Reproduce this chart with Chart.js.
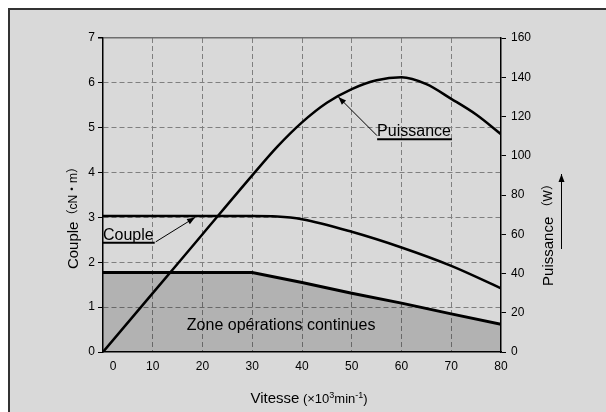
<!DOCTYPE html>
<html lang="fr">
<head>
<meta charset="UTF-8">
<title>Couple et puissance</title>
<script src="https://cdn.jsdelivr.net/npm/chart.js@4"></script>
<style>
  html, body { margin: 0; padding: 0; background: #fff; }
  #boite { width: 606px; height: 412px; }
</style>
</head>
<body>
<div id="boite"><canvas id="canvasMoteur" width="606" height="412"></canvas></div>
<script>
// vitesse en x10^3 min-1
const vitesseCouple = [0, 10, 20, 30, 35, 40, 50, 60, 70, 80];
const couple = [3.03, 3.03, 3.03, 3.03, 3.02, 2.96, 2.68, 2.33, 1.92, 1.42];

const vitessePuissance = [0, 10, 20, 30, 35, 40, 45, 50, 55, 60, 65, 70, 75, 80];
const puissance = [0, 30, 60, 90, 104.5, 117, 127, 134, 138.5, 140, 136.5, 129, 121, 111];

const vitesseZone = [0, 30, 40, 50, 60, 70, 80];
const zoneContinue = [1.77, 1.77, 1.55, 1.31, 1.09, 0.85, 0.62];

const ticksVitesse = [0, 10, 20, 30, 40, 50, 60, 70, 80];
const ticksCouple = [0, 1, 2, 3, 4, 5, 6, 7];
const ticksPuissance = [0, 20, 40, 60, 80, 100, 120, 140, 160];

const police = '"Liberation Sans", Arial, "Noto Sans CJK JP", sans-serif';
const grille = '#7f7f7f';

const points = (xs, ys) => xs.map((x, i) => ({ x: x, y: ys[i] }));
const fixerTicks = (liste) => (s) => { s.ticks = liste.map(v => ({ value: v })); };

// cadre gris autour du graphique
const cadre = {
    id: 'cadre',
    beforeDraw(chart) {
        const ctx = chart.ctx;
        ctx.save();
        ctx.fillStyle = '#fff';
        ctx.fillRect(0, 0, chart.width, chart.height);
        ctx.fillStyle = '#d9d9d9';
        ctx.fillRect(9, 9, chart.width, chart.height);
        ctx.strokeStyle = '#333';
        ctx.lineWidth = 2;
        ctx.beginPath();
        ctx.moveTo(9, chart.height + 2);
        ctx.lineTo(9, 9);
        ctx.lineTo(chart.width + 2, 9);
        ctx.stroke();
        ctx.restore();
    }
};

function fleche(ctx, x1, y1, x2, y2) {
    const a = Math.atan2(y2 - y1, x2 - x1);
    ctx.beginPath();
    ctx.moveTo(x1, y1);
    ctx.lineTo(x2, y2);
    ctx.stroke();
    ctx.beginPath();
    ctx.moveTo(x2, y2);
    ctx.lineTo(x2 - 8 * Math.cos(a) + 3 * Math.sin(a), y2 - 8 * Math.sin(a) - 3 * Math.cos(a));
    ctx.lineTo(x2 - 8 * Math.cos(a) - 3 * Math.sin(a), y2 - 8 * Math.sin(a) + 3 * Math.cos(a));
    ctx.closePath();
    ctx.fill();
}

// morceaux de texte avec tailles differentes (exposants)
function texteMorceaux(ctx, morceaux, x, y) {
    let l = 0;
    morceaux.forEach(m => { ctx.font = m[1] + 'px ' + police; l += ctx.measureText(m[0]).width; });
    let cx = x - l / 2;
    morceaux.forEach(m => {
        ctx.font = m[1] + 'px ' + police;
        ctx.fillText(m[0], cx, y - (m[2] || 0));
        cx += ctx.measureText(m[0]).width;
    });
}

const annotations = {
    id: 'annotations',
    afterDatasetsDraw(chart) {
        const ctx = chart.ctx;
        const sx = chart.scales.x, sy = chart.scales.y, sp = chart.scales.y2;
        ctx.save();
        ctx.fillStyle = '#000';
        ctx.strokeStyle = '#000';
        ctx.font = '16px ' + police;
        ctx.textBaseline = 'alphabetic';

        // Couple
        let x0 = sx.getPixelForValue(0), yb = sy.getPixelForValue(2.5);
        ctx.fillText('Couple', x0, yb);
        let w = ctx.measureText('Couple').width;
        ctx.lineWidth = 2;
        ctx.beginPath();
        ctx.moveTo(x0, yb + 3); ctx.lineTo(x0 + w + 1, yb + 3);
        ctx.stroke();
        ctx.lineWidth = 1;
        fleche(ctx, x0 + w + 2, yb + 2, sx.getPixelForValue(18.5), sy.getPixelForValue(3.0));

        // Puissance
        x0 = sx.getPixelForValue(55.1); yb = sp.getPixelForValue(110.2);
        ctx.fillText('Puissance', x0, yb);
        w = ctx.measureText('Puissance').width;
        ctx.lineWidth = 2;
        ctx.beginPath();
        ctx.moveTo(x0, yb + 3.5); ctx.lineTo(x0 + w + 1, yb + 3.5);
        ctx.stroke();
        ctx.lineWidth = 1;
        fleche(ctx, x0, yb, sx.getPixelForValue(47.3), sp.getPixelForValue(130));

        // zone
        ctx.textAlign = 'center';
        ctx.textBaseline = 'middle';
        ctx.fillText('Zone opérations continues', sx.getPixelForValue(35.8), sy.getPixelForValue(0.58));
        ctx.restore();
    }
};

const titres = {
    id: 'titres',
    afterDraw(chart) {
        const ctx = chart.ctx;
        const a = chart.chartArea;
        ctx.save();
        ctx.fillStyle = '#000';
        ctx.textBaseline = 'middle';

        // axe gauche
        ctx.save();
        ctx.translate(a.left - 29, (a.top + a.bottom) / 2 + 20);
        ctx.rotate(-Math.PI / 2);
        texteMorceaux(ctx, [['Couple', 15], ['（cN・m）', 12]], 0, 0);
        ctx.restore();

        // axe droit
        ctx.save();
        ctx.translate(a.right + 48, (a.top + a.bottom) / 2 + 37);
        ctx.rotate(-Math.PI / 2);
        texteMorceaux(ctx, [['Puissance', 15], [' （W）', 12]], 0, 0);
        ctx.restore();
        ctx.strokeStyle = '#000';
        ctx.lineWidth = 1;
        fleche(ctx, a.right + 60.5, a.top + 211, a.right + 60.5, a.top + 136);

        // axe bas
        ctx.textBaseline = 'alphabetic';
        texteMorceaux(ctx, [['Vitesse', 15], [' (×10', 13], ['3', 9, 5], ['min', 13], ['-1', 9, 5], [')', 13]],
            (a.left + a.right) / 2 + 7, a.bottom + 51);
        ctx.restore();
    }
};

const configMoteur = {
    type: 'line',
    data: {
        datasets: [
            {
                label: 'Zone opérations continues',
                data: points(vitesseZone, zoneContinue),
                borderColor: '#000',
                backgroundColor: 'rgba(0,0,0,0.18)',
                borderWidth: 3,
                fill: 'origin',
                pointRadius: 0,
                tension: 0,
                yAxisID: 'y'
            },
            {
                label: 'Couple',
                data: points(vitesseCouple, couple),
                borderColor: '#000',
                borderWidth: 2.5,
                fill: false,
                pointRadius: 0,
                cubicInterpolationMode: 'monotone',
                yAxisID: 'y'
            },
            {
                label: 'Puissance',
                data: points(vitessePuissance, puissance),
                borderColor: '#000',
                borderWidth: 2.5,
                fill: false,
                pointRadius: 0,
                cubicInterpolationMode: 'monotone',
                yAxisID: 'y2'
            }
        ]
    },
    plugins: [cadre, annotations, titres],
    options: {
        responsive: false,
        animation: false,
        devicePixelRatio: 1,
        layout: { padding: { top: 38, left: 0, right: 0, bottom: 0 } },
        plugins: {
            legend: { display: false },
            title: { display: false },
            tooltip: { enabled: false }
        },
        scales: {
            x: {
                type: 'linear',
                min: 0,
                max: 80,
                afterBuildTicks: fixerTicks(ticksVitesse),
                afterFit: (s) => { s.height = 60; },
                ticks: {
                    color: '#000',
                    padding: 7,
                    maxRotation: 0,
                    font: { family: police, size: 12 },
                    // le 0 est decale a droite sur l'original
                    callback: (v) => v === 0 ? '      0' : String(v)
                },
                grid: {
                    drawTicks: false,
                    lineWidth: 1,
                    color: (c) => (c.tick && (c.tick.value === 0 || c.tick.value === 80)) ? 'rgba(0,0,0,0)' : grille
                },
                border: { display: true, color: '#000', width: 1.5, dash: [5, 3] }
            },
            y: {
                type: 'linear',
                position: 'left',
                min: 0,
                max: 7,
                afterBuildTicks: fixerTicks(ticksCouple),
                afterFit: (s) => { s.width = 103; },
                ticks: {
                    color: '#000',
                    padding: 3,
                    font: { family: police, size: 12 }
                },
                grid: {
                    drawTicks: true,
                    tickLength: 5,
                    tickColor: '#000',
                    lineWidth: (c) => (c.tick && c.tick.value === 7) ? 1.5 : 1,
                    color: (c) => {
                        if (!c.tick || c.tick.value === 0) return 'rgba(0,0,0,0)';
                        return c.tick.value === 7 ? '#6e6e6e' : grille;
                    }
                },
                border: {
                    display: true, color: '#000', width: 1.5,
                    dash: (c) => (c.tick && c.tick.value === 7) ? [] : [5, 3]
                }
            },
            y2: {
                type: 'linear',
                position: 'right',
                min: 0,
                max: 160,
                afterBuildTicks: fixerTicks(ticksPuissance),
                afterFit: (s) => { s.width = 105; },
                ticks: {
                    color: '#000',
                    padding: 5,
                    font: { family: police, size: 12 }
                },
                grid: {
                    drawOnChartArea: false,
                    drawTicks: true,
                    tickLength: 5,
                    tickColor: '#000'
                },
                border: { display: true, color: '#000', width: 1.5 }
            }
        }
    }
};

const graficoMoteur = new Chart(document.getElementById('canvasMoteur'), configMoteur);
</script>
</body>
</html>
